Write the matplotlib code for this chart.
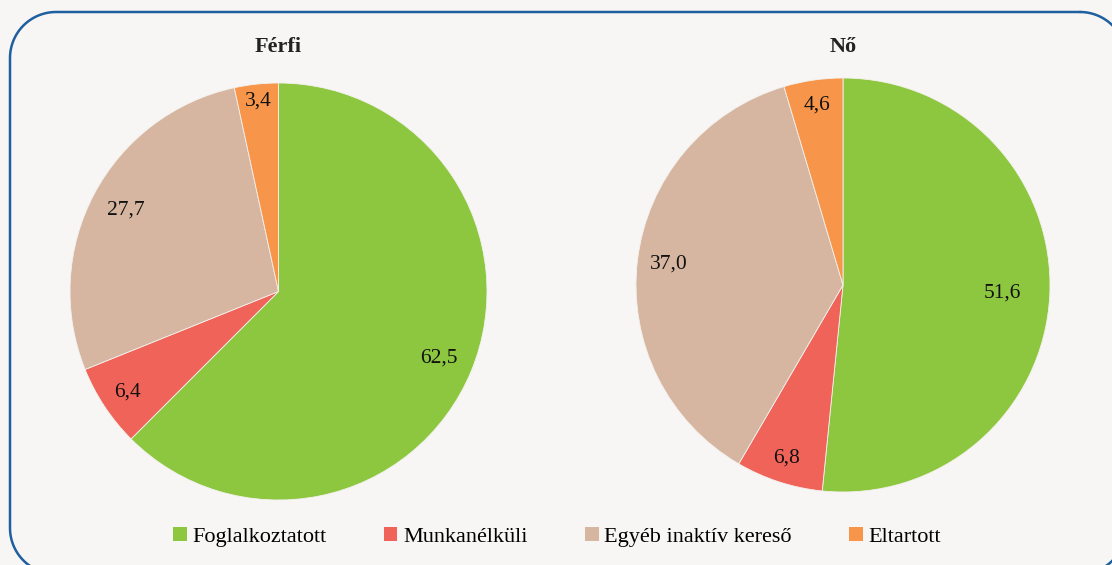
import matplotlib.pyplot as plt
import numpy as np
from matplotlib.patches import Patch

# adatok
categories = ['Foglalkoztatott', 'Munkanélküli', 'Egyéb inaktív kereső', 'Eltartott']
ferfi = [62.5, 6.4, 27.7, 3.4]
no = [51.6, 6.8, 37.0, 4.6]
titles = ['Férfi', 'Nő']
colors = ['#8dc63f', '#f06359', '#d6b6a0', '#f7964a']

plt.rcParams['font.family'] = ['Liberation Serif', 'DejaVu Serif']
bg = '#f7f6f4'

fig = plt.figure(figsize=(11.12, 5.65), dpi=100, facecolor=bg)

# keret (lekerekített), pixel koordinátákban, alul/jobbra kilóg a képből
frame = fig.add_axes([0, 0, 1, 1])
frame.set_xlim(0, 1112)
frame.set_ylim(565, 0)
frame.axis('off')

def rounded_rect(x0, y0, x1, y1, r, n=30):
    pts = []
    corners = [(x1 - r, y0 + r, -90, 0), (x1 - r, y1 - r, 0, 90),
               (x0 + r, y1 - r, 90, 180), (x0 + r, y0 + r, 180, 270)]
    for cx, cy, a0, a1 in corners:
        t = np.deg2rad(np.linspace(a0, a1, n))
        pts += list(zip(cx + r * np.cos(t), cy + r * np.sin(t)))
    pts.append(pts[0])
    return np.array(pts)

box = rounded_rect(10, 12, 1126, 574, 46)
frame.plot(box[:, 0], box[:, 1], color='#1f5f9f', lw=1.8, solid_capstyle='round')

def fmt(v):
    return f'{v:.1f}'.replace('.', ',')

# címke távolság szeletenként (sugár arányában)
label_dist = [[0.83, 0.87, 0.83, 0.92],
              [0.77, 0.88, 0.85, 0.88]]
positions = [[(278.5 - 208.5) / 1112, (565 - 291.5 - 208.5) / 565, 417 / 1112, 417 / 565],
             [(843 - 207) / 1112, (565 - 285 - 207) / 565, 414 / 1112, 414 / 565]]

for i, vals in enumerate([ferfi, no]):
    ax = fig.add_axes(positions[i])
    wedges, _ = ax.pie(vals, colors=colors, startangle=90, counterclock=False,
                       wedgeprops=dict(edgecolor='#f4f1ee', linewidth=0.6))
    ax.set_xlim(-1, 1)
    ax.set_ylim(-1, 1)
    ax.set_aspect('auto')
    for w, v, d in zip(wedges, vals, label_dist[i]):
        ang = np.deg2rad((w.theta1 + w.theta2) / 2)
        ax.text(d * np.cos(ang), d * np.sin(ang), fmt(v), ha='center', va='center',
                fontsize=15.5, color='#111111')
    fig.text((positions[i][0] + positions[i][2] / 2), 1 - 47 / 565, titles[i],
             ha='center', va='center', fontsize=16, fontweight='bold', color='#222222')

handles = [Patch(facecolor=c, edgecolor='none') for c in colors]
fig.legend(handles, categories, loc='center', bbox_to_anchor=(0.501, 1 - 537 / 565),
           ncol=4, frameon=False, fontsize=16, handlelength=0.6, handleheight=0.6,
           handletextpad=0.25, columnspacing=2.6)

fig.savefig('out.png', dpi=100, facecolor=bg)
